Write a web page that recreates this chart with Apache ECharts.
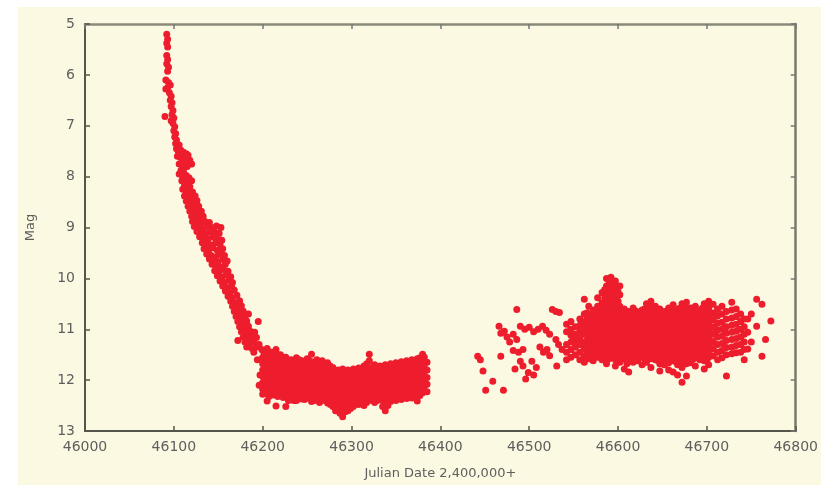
<!DOCTYPE html>
<html><head><meta charset="utf-8">
<script src="https://cdn.jsdelivr.net/npm/echarts@6/dist/echarts.min.js"></script>
<style>
html,body{margin:0;padding:0;background:#fff}
#c{width:821px;height:485px;
background:linear-gradient(#fff,#fff) 0 0/821px 7px no-repeat,linear-gradient(#fff,#fff) 0 0/18px 485px no-repeat,#fcf9e3;}
</style>
</head><body><div id="c"></div><script>
// Axis settings
const xTickValues = [46000,46100,46200,46300,46400,46500,46600,46700,46800];
const yTickValues = [5,6,7,8,9,10,11,12,13];
const xTitle = 'Julian Date 2,400,000+';
const yTitle = 'Mag';

// Decline after outburst: [JD, mag]
const decline = [
[46092,5.2],[46093,5.3],[46092,5.38],[46093,5.45],[46092,5.62],[46093,5.7],[46092,5.78],[46094,5.85],[46093,5.93],[46091,6.1],[46094,6.15],[46096,6.2],[46093,6.25],[46091,6.28],
[46090,6.82],
[46095,6.35],[46097,6.42],[46096,6.5],[46098,6.55],[46097,6.62],[46099,6.7],[46098,6.78],[46100,6.85],[46097,6.9],
[46099,6.95],[46101,7.02],[46100,7.1],[46102,7.15],[46101,7.22],[46103,7.28],[46102,7.35],[46104,7.4],[46106,7.38],
[46103,7.45],[46105,7.5],[46108,7.48],[46111,7.52],[46114,7.55],[46116,7.58],[46104,7.6],[46107,7.62],[46110,7.66],[46113,7.7],[46118,7.68],[46106,7.75],[46109,7.78],[46112,7.82],[46115,7.8],[46120,7.75],[46108,7.88],[46111,7.92],
[46106,7.95],[46110,8.0],[46114,7.98],[46117,8.02],[46109,8.08],[46113,8.1],[46116,8.12],[46120,8.08],[46112,8.18],[46118,8.2],
[46110,8.25],[46114,8.28],[46117,8.32],[46121,8.3],[46112,8.38],[46116,8.4],[46120,8.42],[46124,8.38],[46114,8.48],[46118,8.5],[46122,8.52],[46126,8.47],[46116,8.58],[46120,8.6],[46124,8.62],[46128,8.58],[46118,8.68],[46122,8.7],[46127,8.72],[46131,8.68],
[46120,8.78],[46124,8.8],[46128,8.82],[46133,8.78],[46121,8.88],[46125,8.9],[46130,8.92],[46135,8.88],[46140,8.9],[46123,8.98],[46128,9.0],[46133,9.02],[46138,8.98],[46143,9.0],[46148,8.97],[46153,9.0],
[46126,9.08],[46131,9.1],[46136,9.12],[46141,9.08],[46146,9.1],[46151,9.12],[46129,9.18],[46134,9.2],[46139,9.22],[46144,9.18],[46149,9.22],[46154,9.25],[46132,9.3],[46137,9.32],[46142,9.35],[46147,9.3],[46152,9.33],
[46134,9.42],[46139,9.45],[46144,9.4],[46149,9.45],[46155,9.42],[46137,9.52],[46142,9.55],[46147,9.58],[46152,9.52],[46157,9.55],[46140,9.62],[46145,9.65],[46150,9.68],[46155,9.62],[46160,9.66],
[46143,9.72],[46148,9.75],[46153,9.78],[46158,9.72],[46146,9.85],[46151,9.88],[46156,9.82],[46161,9.86],[46149,9.95],[46154,9.98],[46159,9.93],[46164,9.97],[46152,10.05],[46157,10.08],[46162,10.03],[46166,10.08],[46155,10.15],[46160,10.18],[46165,10.14],
[46158,10.25],[46163,10.28],[46168,10.23],[46161,10.35],[46166,10.38],[46171,10.33],[46164,10.45],[46169,10.48],[46174,10.44],[46166,10.55],[46171,10.58],[46176,10.54],[46168,10.65],[46173,10.68],[46178,10.64],[46170,10.75],[46175,10.78],[46180,10.74],[46184,10.7],
[46172,10.85],[46177,10.88],[46182,10.84],[46195,10.85],[46174,10.95],[46179,10.98],[46184,10.94],[46176,11.05],[46181,11.08],[46186,11.04],[46191,11.06],[46178,11.15],[46183,11.18],[46188,11.14],[46193,11.16],
[46172,11.22],[46180,11.25],[46185,11.28],[46190,11.24],[46196,11.3],[46182,11.35],[46188,11.38],[46193,11.35],[46199,11.4],
[46186,11.2],[46190,11.45],[46194,11.6],[46197,11.9],[46196,12.1]
];

// Plateau (minimum): [JD, [mags...]]
const plateauCols = [
[46200,[11.42,11.55,11.68,11.8,11.93,12.05,12.18,12.28]],
[46202,[11.48,11.61,11.74,11.87,12.0,12.12,12.24]],
[46205,[11.38,11.5,11.63,11.76,11.9,12.02,12.15,12.27,12.41]],
[46207,[11.44,11.56,11.69,11.82,11.95,12.08,12.2,12.32]],
[46210,[11.45,11.58,11.7,11.83,11.96,12.1,12.22]],
[46212,[11.5,11.64,11.78,11.9,12.04,12.17,12.29]],
[46215,[11.4,11.52,11.74,11.86,11.98,12.12,12.25,12.51]],
[46217,[11.56,11.68,11.8,11.93,12.06,12.19,12.32]],
[46220,[11.5,11.62,11.75,11.88,12.0,12.13,12.27]],
[46223,[11.58,11.7,11.82,11.95,12.08,12.21,12.34]],
[46226,[11.55,11.68,11.8,11.93,12.05,12.18,12.3,12.52]],
[46229,[11.62,11.76,11.9,12.02,12.14,12.27,12.4]],
[46232,[11.6,11.72,11.84,11.97,12.1,12.22,12.35]],
[46235,[11.64,11.77,11.9,12.03,12.16,12.29,12.4]],
[46238,[11.56,11.66,11.78,11.9,12.03,12.15,12.28,12.4]],
[46241,[11.6,11.72,11.84,11.96,12.09,12.22,12.34]],
[46244,[11.62,11.74,11.87,12.0,12.12,12.25,12.37]],
[46247,[11.66,11.78,11.9,12.03,12.16,12.28,12.38]],
[46250,[11.58,11.7,11.82,11.95,12.08,12.2,12.33]],
[46252,[11.62,11.76,11.88,12.01,12.14,12.26,12.36]],
[46255,[11.49,11.64,11.77,11.9,12.02,12.15,12.28,12.42]],
[46258,[11.66,11.8,11.92,12.05,12.18,12.3,12.4]],
[46261,[11.6,11.72,11.85,11.98,12.1,12.23,12.36]],
[46264,[11.68,11.8,11.92,12.06,12.2,12.32,12.44]],
[46267,[11.62,11.75,11.88,12.0,12.13,12.26,12.4]],
[46270,[11.7,11.83,11.96,12.09,12.22,12.35]],
[46273,[11.66,11.78,11.9,12.03,12.16,12.3,12.45]],
[46276,[11.72,11.84,11.96,12.08,12.2,12.33,12.48]],
[46279,[11.75,11.88,12.0,12.12,12.25,12.38,12.52]],
[46282,[11.82,11.95,12.08,12.2,12.33,12.46,12.6]],
[46285,[11.8,11.92,12.05,12.18,12.3,12.44,12.58]],
[46287,[11.86,11.98,12.1,12.23,12.36,12.5,12.65]],
[46290,[11.78,11.9,12.02,12.15,12.28,12.4,12.55,12.72]],
[46293,[11.84,11.96,12.09,12.22,12.35,12.5,12.62]],
[46296,[11.8,11.93,12.06,12.2,12.32,12.46,12.6]],
[46299,[11.84,11.96,12.09,12.22,12.34,12.46,12.56]],
[46302,[11.78,11.9,12.03,12.15,12.28,12.4,12.52]],
[46305,[11.82,11.94,12.07,12.2,12.33,12.45]],
[46308,[11.76,11.88,12.0,12.12,12.25,12.38,12.48]],
[46311,[11.8,11.92,12.05,12.18,12.3,12.42]],
[46314,[11.72,11.85,11.97,12.1,12.22,12.35,12.5]],
[46317,[11.68,11.8,11.92,12.04,12.17,12.3,12.44]],
[46320,[11.49,11.62,11.75,11.88,12.0,12.12,12.25,12.38]],
[46323,[11.76,11.88,12.02,12.14,12.27,12.4]],
[46326,[11.7,11.82,11.95,12.08,12.2,12.33,12.44]],
[46329,[11.78,11.9,12.03,12.16,12.28,12.4]],
[46332,[11.72,11.85,11.98,12.1,12.23,12.36]],
[46335,[11.76,11.89,12.02,12.14,12.27,12.4,12.52]],
[46338,[11.7,11.82,11.95,12.08,12.2,12.33,12.46,12.6]],
[46341,[11.74,11.86,11.99,12.12,12.24,12.36,12.5]],
[46344,[11.68,11.8,11.93,12.05,12.18,12.3,12.42]],
[46347,[11.72,11.84,11.97,12.1,12.22,12.34]],
[46350,[11.66,11.78,11.9,12.03,12.15,12.28,12.4]],
[46353,[11.7,11.82,11.94,12.07,12.2,12.32]],
[46356,[11.64,11.76,11.88,12.0,12.13,12.26,12.38]],
[46359,[11.68,11.8,11.93,12.06,12.19,12.31]],
[46362,[11.62,11.74,11.87,12.0,12.12,12.25,12.36]],
[46365,[11.66,11.79,11.92,12.04,12.16,12.28]],
[46368,[11.6,11.72,11.85,11.98,12.1,12.22,12.35]],
[46371,[11.64,11.76,11.89,12.02,12.14,12.27]],
[46374,[11.58,11.7,11.82,11.95,12.08,12.2,12.32,12.41]],
[46377,[11.56,11.68,11.8,11.93,12.06,12.18,12.3]],
[46380,[11.49,11.62,11.75,11.88,12.0,12.13,12.25]],
[46382,[11.55,11.7,11.84,11.98,12.12,12.2]],
[46385,[11.65,11.8,11.95,12.08,12.23]]
];

// Sparse early recovery and right edge: [JD, mag]
const recoverySparse = [
[46442,11.53],[46445,11.6],[46448,11.82],[46451,12.2],[46459,12.02],[46471,12.2],[46466,10.94],[46468,11.53],[46468,11.08],[46472,11.04],[46475,11.15],[46478,11.25],[46482,11.1],[46486,10.61],[46486,11.2],
[46482,11.42],[46488,11.45],[46493,11.4],[46484,11.78],[46490,11.63],[46493,11.72],[46496,11.98],[46499,11.85],[46503,11.63],[46505,11.9],[46508,11.75],
[46490,10.94],[46495,11.0],[46500,10.96],[46505,11.05],[46510,11.0],[46515,10.94],[46519,11.02],[46523,11.1],[46512,11.35],[46516,11.45],[46520,11.4],[46523,11.52],
[46531,11.72],[46526,10.61],[46530,10.65],[46534,10.67],[46530,11.2],[46533,11.3],[46537,11.4],
[46746,10.8],[46746,11.06],[46746,11.39],[46750,10.7],[46750,11.25],[46756,10.41],[46756,10.94],[46762,10.51],[46762,11.53],[46766,11.2],[46772,10.84]
];

// Dense recovery: [JD, [mags...]]
const recoveryCols = [
[46542,[10.9,11.05,11.3,11.45,11.6]],
[46547,[10.85,11.0,11.12,11.25,11.4,11.55]],
[46552,[10.95,11.1,11.22,11.35,11.5]],
[46557,[10.8,10.92,11.05,11.18,11.3,11.45,11.6]],
[46562,[10.41,10.7,10.85,10.98,11.1,11.25,11.38,11.52,11.65]],
[46565,[10.68,10.82,10.96,11.1,11.22,11.36,11.5]],
[46567,[10.55,10.75,10.9,11.02,11.15,11.3,11.42,11.58]],
[46570,[10.72,10.87,11.0,11.14,11.27,11.42]],
[46572,[10.62,10.8,10.95,11.08,11.2,11.35,11.5,11.62]],
[46575,[10.62,10.78,10.92,11.06,11.18,11.32,11.48]],
[46577,[10.38,10.55,10.7,10.85,11.0,11.12,11.25,11.4,11.55]],
[46580,[10.58,10.72,10.86,11.0,11.14,11.27,11.4,11.52]],
[46582,[10.28,10.48,10.65,10.8,10.93,11.06,11.2,11.33,11.48,11.6]],
[46585,[10.22,10.38,10.52,10.68,10.82,10.96,11.1,11.22,11.36,11.5]],
[46587,[10.0,10.15,10.3,10.45,10.6,10.75,10.9,11.02,11.15,11.28,11.42,11.55,11.68]],
[46590,[10.06,10.28,10.45,10.6,10.75,10.88,11.02,11.15,11.28,11.42,11.58]],
[46592,[9.98,10.1,10.22,10.38,10.52,10.68,10.82,10.95,11.08,11.22,11.35,11.5]],
[46595,[10.12,10.28,10.44,10.58,10.72,10.86,11.0,11.12,11.26,11.38,11.52]],
[46597,[10.05,10.2,10.35,10.5,10.65,10.78,10.92,11.05,11.18,11.3,11.45,11.6,11.72]],
[46600,[10.26,10.45,10.62,10.78,10.92,11.05,11.18,11.32,11.46,11.58]],
[46602,[10.15,10.32,10.55,10.7,10.85,10.98,11.12,11.25,11.4,11.52,11.65]],
[46605,[10.68,10.82,10.95,11.08,11.22,11.35,11.5]],
[46607,[10.6,10.75,10.88,11.0,11.15,11.28,11.42,11.58,11.78]],
[46610,[10.72,10.86,11.0,11.12,11.26,11.38,11.52,11.68]],
[46612,[10.65,10.8,10.93,11.05,11.2,11.32,11.45,11.6,11.84]],
[46615,[10.66,10.8,10.92,11.04,11.17,11.3,11.44,11.56]],
[46617,[10.58,10.72,10.85,10.98,11.1,11.25,11.38,11.5,11.65]],
[46620,[10.64,10.77,10.9,11.02,11.14,11.28,11.42,11.55]],
[46622,[10.7,10.82,10.95,11.08,11.2,11.35,11.48,11.62]],
[46625,[10.7,10.84,10.97,11.1,11.24,11.36,11.5]],
[46627,[10.62,10.78,10.9,11.02,11.15,11.3,11.42,11.55,11.7]],
[46630,[10.6,10.74,10.92,11.05,11.17,11.3,11.44,11.58]],
[46632,[10.5,10.68,10.85,10.98,11.1,11.22,11.36,11.5,11.65]],
[46635,[10.55,10.68,10.82,10.96,11.1,11.22,11.35,11.5]],
[46637,[10.45,10.6,10.75,10.9,11.03,11.15,11.28,11.42,11.58,11.75]],
[46640,[10.62,10.76,10.89,11.02,11.14,11.26,11.4,11.54]],
[46642,[10.55,10.7,10.82,10.95,11.08,11.2,11.33,11.47,11.6]],
[46645,[10.68,10.84,10.96,11.08,11.22,11.34,11.48,11.62]],
[46647,[10.6,10.78,10.9,11.02,11.15,11.28,11.4,11.55,11.68,11.82]],
[46650,[10.72,10.86,11.0,11.13,11.26,11.38,11.52]],
[46652,[10.65,10.8,10.93,11.06,11.2,11.32,11.45,11.58,11.7]],
[46655,[10.66,10.8,10.94,11.06,11.18,11.32,11.45,11.6]],
[46657,[10.58,10.72,10.88,11.0,11.12,11.25,11.38,11.52,11.66,11.8]],
[46660,[10.6,10.75,10.88,11.02,11.15,11.28,11.42,11.56]],
[46662,[10.52,10.68,10.82,10.95,11.08,11.22,11.35,11.5,11.62,11.84]],
[46665,[10.68,10.82,10.96,11.1,11.23,11.36,11.5,11.64]],
[46667,[10.6,10.75,10.9,11.03,11.16,11.3,11.42,11.56,11.7,11.9]],
[46670,[10.58,10.73,10.86,11.0,11.13,11.26,11.4,11.53,11.68]],
[46672,[10.5,10.66,10.8,10.93,11.06,11.2,11.33,11.46,11.6,11.75,12.04]],
[46675,[10.55,10.7,10.83,10.96,11.08,11.22,11.35,11.48,11.62]],
[46677,[10.47,10.62,10.76,10.9,11.02,11.15,11.28,11.42,11.55,11.68,11.92]],
[46680,[10.65,10.79,10.93,11.06,11.18,11.32,11.45,11.6]],
[46682,[10.58,10.72,10.86,11.0,11.12,11.25,11.38,11.52,11.66]],
[46685,[10.62,10.77,10.92,11.04,11.17,11.3,11.43,11.58]],
[46687,[10.55,10.7,10.85,10.98,11.1,11.24,11.36,11.5,11.72]],
[46690,[10.7,10.85,10.98,11.12,11.24,11.38,11.52]],
[46692,[10.62,10.78,10.92,11.05,11.18,11.3,11.45,11.6]],
[46695,[10.58,10.73,10.87,11.0,11.14,11.28,11.42,11.55]],
[46697,[10.5,10.66,10.8,10.94,11.08,11.2,11.35,11.48,11.62,11.78]],
[46700,[10.52,10.68,10.82,10.94,11.07,11.2,11.35,11.48,11.62]],
[46702,[10.45,10.6,10.75,10.88,11.0,11.14,11.28,11.42,11.55,11.7]],
[46707,[10.51,10.68,10.82,10.96,11.1,11.24,11.38,11.52]],
[46712,[10.6,10.74,10.88,11.02,11.15,11.3,11.45,11.6]],
[46717,[10.55,10.7,10.86,11.0,11.14,11.28,11.42,11.56]],
[46722,[10.65,10.8,10.95,11.08,11.22,11.36,11.5,11.92]],
[46728,[10.47,10.62,10.78,10.92,11.06,11.2,11.35,11.48]],
[46733,[10.6,10.75,10.9,11.04,11.18,11.32,11.46]],
[46738,[10.7,10.85,11.0,11.15,11.3,11.45]],
[46742,[10.8,10.95,11.1,11.25,11.4,11.6]]
];

function expand(cols){const out=[];cols.forEach(c=>c[1].forEach(m=>out.push([c[0],m])));return out;}
const allPoints = decline.concat(expand(plateauCols), recoverySparse, expand(recoveryCols));

const FONT = 'DejaVu Sans';
const axisColor = '#55554a';
const labelColor = '#5e5e5e';
const chart = echarts.init(document.getElementById('c'), null, {renderer:'canvas'});
const xMin = xTickValues[0], xMax = xTickValues[xTickValues.length-1], xInt = xTickValues[1]-xTickValues[0];
const yMin = yTickValues[0], yMax = yTickValues[yTickValues.length-1], yInt = yTickValues[1]-yTickValues[0];
const plain = v => String(v);
chart.setOption({
  animation:false,
  backgroundColor:'transparent',
  grid:{left:85,right:9,top:24,bottom:53,containLabel:false},
  xAxis:[
    {type:'value',min:xMin,max:xMax,interval:xInt,name:xTitle,nameLocation:'middle',nameGap:36,
     nameTextStyle:{color:labelColor,fontSize:13,fontFamily:FONT},
     axisLine:{onZero:false,lineStyle:{color:axisColor,width:2}},
     axisTick:{inside:true,length:5,lineStyle:{color:axisColor,width:1.5}},
     axisLabel:{color:labelColor,fontSize:14,fontFamily:FONT,margin:9,formatter:plain},
     splitLine:{show:false}},
    {type:'value',position:'top',min:xMin,max:xMax,interval:xInt,
     axisLine:{onZero:false,lineStyle:{color:'#8a8a7c',width:2.5}},
     axisTick:{inside:true,length:5,lineStyle:{color:'#777',width:1.5}},
     axisLabel:{show:false},splitLine:{show:false}}
  ],
  yAxis:[
    {type:'value',inverse:true,min:yMin,max:yMax,interval:yInt,name:yTitle,nameLocation:'middle',nameGap:48,
     nameTextStyle:{color:labelColor,fontSize:13,fontFamily:FONT},
     axisLine:{onZero:false,lineStyle:{color:axisColor,width:2}},
     axisTick:{inside:true,length:5,lineStyle:{color:axisColor,width:1.5}},
     axisLabel:{color:labelColor,fontSize:14,fontFamily:FONT,margin:10,formatter:plain},
     splitLine:{show:false}},
    {type:'value',position:'right',inverse:true,min:yMin,max:yMax,interval:yInt,
     axisLine:{onZero:false,lineStyle:{color:'#7a7a6c',width:2.5}},
     axisTick:{inside:true,length:5,lineStyle:{color:'#777',width:1.5}},
     axisLabel:{show:false},splitLine:{show:false}}
  ],
  series:[{type:'scatter',xAxisIndex:0,yAxisIndex:0,data:allPoints,symbol:'circle',symbolSize:7,
    large:true,largeThreshold:0,
    itemStyle:{color:'#ee1d2d',opacity:1,borderWidth:0},
    emphasis:{disabled:true},z:3}]
});
</script></body></html>
